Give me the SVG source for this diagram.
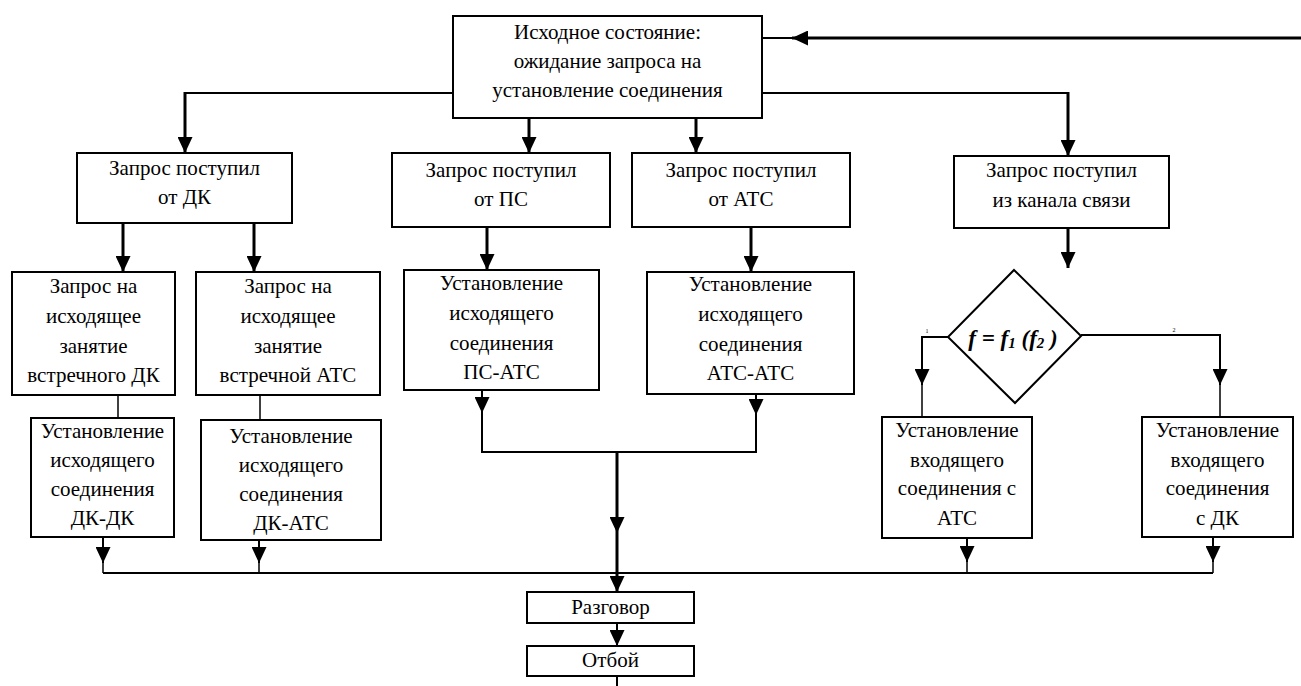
<svg xmlns="http://www.w3.org/2000/svg" width="1301" height="686" viewBox="0 0 1301 686">
<style>
.box{fill:#fff;stroke:#000;stroke-width:2}
.t{font-family:'Liberation Serif','Times New Roman','DejaVu Serif',serif;font-size:21px;fill:#000;text-anchor:middle}
.c{fill:none;stroke:#000;stroke-width:2}
.k{fill:none;stroke:#000;stroke-width:3}
.n{fill:none;stroke:#000;stroke-width:1.5}
.tiny{font-family:'Liberation Serif',serif;font-size:6px;fill:#000;text-anchor:middle}
.f{font-family:'Liberation Serif','Times New Roman',serif;font-size:23px;font-style:italic;font-weight:bold;fill:#000;text-anchor:middle}
</style>
<defs>
<marker id="ah" markerUnits="userSpaceOnUse" markerWidth="16" markerHeight="15" refX="16" refY="7.5" orient="auto">
<path d="M0,0 L16,7.5 L0,15 z" fill="#000"/>
</marker>
</defs>
<rect width="1301" height="686" fill="#fff"/>
<g id="connectors">
<path class="k" d="M1301,38 L792,38" marker-end="url(#ah)"/>
<path class="c" d="M792,38 L762,38"/>
<path class="c" d="M453,93 L185,93"/>
<path class="k" d="M185,92 L185,153" marker-end="url(#ah)"/>
<path class="k" d="M529,118 L529,153" marker-end="url(#ah)"/>
<path class="k" d="M696,118 L696,153" marker-end="url(#ah)"/>
<path class="c" d="M762,93 L1068,93"/>
<path class="k" d="M1068,92 L1068,156" marker-end="url(#ah)"/>
<path class="k" d="M123,223 L123,272" marker-end="url(#ah)"/>
<path class="k" d="M254,223 L254,272" marker-end="url(#ah)"/>
<path class="k" d="M487,227 L487,270" marker-end="url(#ah)"/>
<path class="k" d="M751,227 L751,272" marker-end="url(#ah)"/>
<path class="k" d="M1068,228 L1068,268" marker-end="url(#ah)"/>
<path class="c" d="M948,337 L922,337 L922,385" marker-end="url(#ah)"/>
<path class="n" d="M922,385 L922,417"/>
<path class="c" d="M1081,335 L1220,335 L1220,385" marker-end="url(#ah)"/>
<path class="n" d="M1220,385 L1220,417"/>
<path class="n" d="M118,395 L118,418"/>
<path class="n" d="M260,395 L260,420"/>
<path class="c" d="M103,537 L103,563" marker-end="url(#ah)"/>
<path class="n" d="M103,563 L103,573"/>
<path class="c" d="M259,540 L259,563" marker-end="url(#ah)"/>
<path class="n" d="M259,563 L259,573"/>
<path class="c" d="M482,390 L482,413" marker-end="url(#ah)"/>
<path class="c" d="M756,394 L756,415" marker-end="url(#ah)"/>
<path class="c" d="M482,413 L482,452 L756,452 L756,415"/>
<path class="k" d="M617,452 L617,533" marker-end="url(#ah)"/>
<path class="k" d="M617,533 L617,592" marker-end="url(#ah)"/>
<path class="c" d="M103,573 L1213,573"/>
<path class="c" d="M967,538 L967,562" marker-end="url(#ah)"/>
<path class="n" d="M967,562 L967,573"/>
<path class="c" d="M1213,537 L1213,562" marker-end="url(#ah)"/>
<path class="n" d="M1213,562 L1213,573"/>
<path class="c" d="M617,623 L617,646" marker-end="url(#ah)"/>
<path class="c" d="M617,676 L617,686"/>
</g>
<g id="start">
<rect class="box" x="453" y="16" width="309" height="102"/>
<text class="t" x="607.5" y="39">Исходное состояние:</text>
<text class="t" x="607.5" y="68">ожидание запроса на</text>
<text class="t" x="607.5" y="97">установление соединения</text>
</g>
<g id="req-dk">
<rect class="box" x="77" y="153" width="215" height="70"/>
<text class="t" x="184.5" y="175">Запрос поступил</text>
<text class="t" x="184.5" y="204">от ДК</text>
</g>
<g id="req-ps">
<rect class="box" x="392" y="153" width="218" height="74"/>
<text class="t" x="501" y="177">Запрос поступил</text>
<text class="t" x="501" y="206">от ПС</text>
</g>
<g id="req-ats">
<rect class="box" x="632" y="153" width="218" height="74"/>
<text class="t" x="741" y="177">Запрос поступил</text>
<text class="t" x="741" y="206">от АТС</text>
</g>
<g id="req-channel">
<rect class="box" x="954" y="156" width="215" height="72"/>
<text class="t" x="1061.5" y="177">Запрос поступил</text>
<text class="t" x="1061.5" y="207">из канала связи</text>
</g>
<g id="out-dk">
<rect class="box" x="12" y="272" width="163" height="123"/>
<text class="t" x="93.5" y="293">Запрос на</text>
<text class="t" x="93.5" y="323">исходящее</text>
<text class="t" x="93.5" y="353">занятие</text>
<text class="t" x="93.5" y="382">встречного ДК</text>
</g>
<g id="out-ats">
<rect class="box" x="196" y="272" width="184" height="123"/>
<text class="t" x="288" y="293">Запрос на</text>
<text class="t" x="288" y="323">исходящее</text>
<text class="t" x="288" y="353">занятие</text>
<text class="t" x="288" y="382">встречной АТС</text>
</g>
<g id="est-ps-ats">
<rect class="box" x="404" y="270" width="195" height="120"/>
<text class="t" x="501.5" y="290">Установление</text>
<text class="t" x="501.5" y="320">исходящего</text>
<text class="t" x="501.5" y="350">соединения</text>
<text class="t" x="501.5" y="379">ПС-АТС</text>
</g>
<g id="est-ats-ats">
<rect class="box" x="647" y="272" width="207" height="122"/>
<text class="t" x="750.5" y="291">Установление</text>
<text class="t" x="750.5" y="321">исходящего</text>
<text class="t" x="750.5" y="351">соединения</text>
<text class="t" x="750.5" y="380">АТС-АТС</text>
</g>
<g id="est-dk-dk">
<rect class="box" x="31" y="418" width="143" height="119"/>
<text class="t" x="102.5" y="438">Установление</text>
<text class="t" x="102.5" y="467">исходящего</text>
<text class="t" x="102.5" y="496">соединения</text>
<text class="t" x="102.5" y="525">ДК-ДК</text>
</g>
<g id="est-dk-ats">
<rect class="box" x="201" y="420" width="180" height="120"/>
<text class="t" x="291" y="443">Установление</text>
<text class="t" x="291" y="472">исходящего</text>
<text class="t" x="291" y="501">соединения</text>
<text class="t" x="291" y="530">ДК-АТС</text>
</g>
<g id="decision">
<polygon class="box" points="1014,270 1081,336 1015,403 948,337"/>
<text class="f" x="1013" y="346">f = f<tspan font-size="15" dy="2">1</tspan><tspan dy="-2"> (f</tspan><tspan font-size="15" dy="2">2</tspan><tspan dy="-2"> )</tspan></text>
<text class="tiny" x="927" y="333">1</text>
<text class="tiny" x="1174" y="332">2</text>
</g>
<g id="in-ats">
<rect class="box" x="882" y="417" width="150" height="121"/>
<text class="t" x="957" y="437">Установление</text>
<text class="t" x="957" y="467">входящего</text>
<text class="t" x="957" y="495">соединения с</text>
<text class="t" x="957" y="525">АТС</text>
</g>
<g id="in-dk">
<rect class="box" x="1142" y="417" width="151" height="120"/>
<text class="t" x="1217.5" y="437">Установление</text>
<text class="t" x="1217.5" y="467">входящего</text>
<text class="t" x="1217.5" y="495">соединения</text>
<text class="t" x="1217.5" y="525">с ДК</text>
</g>
<g id="talk">
<rect class="box" x="527" y="592" width="167" height="31"/>
<text class="t" x="610.5" y="614">Разговор</text>
</g>
<g id="hangup">
<rect class="box" x="527" y="646" width="167" height="30"/>
<text class="t" x="610.5" y="667">Отбой</text>
</g>
</svg>
